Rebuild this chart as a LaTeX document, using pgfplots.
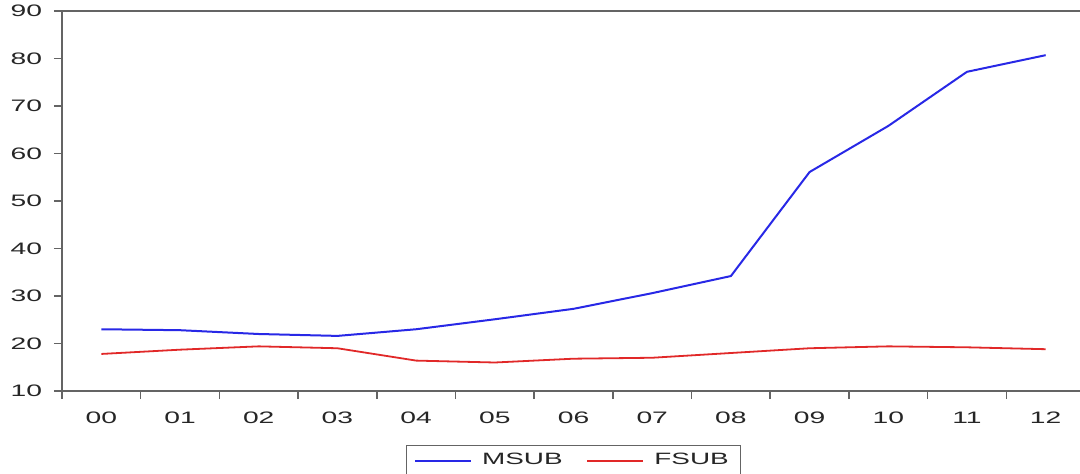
\documentclass[border=0pt]{standalone}
\usepackage{fontspec}
\setmainfont{Liberation Sans}[FakeStretch=1.7]
\usepackage{pgfplots}
\pgfplotsset{compat=1.18}
\definecolor{msub}{RGB}{40,40,230}
\definecolor{fsub}{RGB}{225,40,40}
\definecolor{axgray}{RGB}{100,100,100}
\begin{document}
\begin{tikzpicture}
\begin{axis}[
  at={(0,0)}, anchor=south west,
  scale only axis,
  width=511.5bp, height=190bp,
  xmin=-0.5, xmax=12.5,
  ymin=10, ymax=90,
  ytick={10,20,...,90},
  xtick={-0.5,0.5,...,12.5},
  xticklabels={},
  extra x ticks={0,1,...,12},
  extra x tick labels={00,01,02,03,04,05,06,07,08,09,10,11,12},
  extra x tick style={tick style={draw=none}},
  xtick pos=bottom, ytick pos=left,
  tick align=outside,
  major tick length=4bp,
  axis line style={draw=axgray, line width=0.9bp},
  tick style={draw=axgray, line width=0.8bp},
  font=\fontsize{8.3bp}{10bp}\selectfont,
  /pgf/number format/assume math mode=true,
  ticklabel style={text=black!85},
  xticklabel style={yshift=-3bp},
  yticklabel style={xshift=-2.5bp},
  legend columns=2,
  legend style={at={(0.5,-0.142)}, anchor=north, draw=axgray, line width=0.6bp,
    font=\fontsize{8.2bp}{10bp}\selectfont, text=black!85,
    inner xsep=4bp, inner ysep=2bp,
    /tikz/every odd column/.append style={column sep=3bp},
    /tikz/every even column/.append style={column sep=10bp}},
  legend image code/.code={\draw[#1, line width=0.9bp] (0bp,0bp) -- (28bp,0bp);},
]
\addplot[msub, line width=1bp] coordinates {
(0,23.0) (1,22.8) (2,22.0) (3,21.6) (4,23.0) (5,25.1) (6,27.3) (7,30.6) (8,34.2) (9,56.1) (10,65.8) (11,77.2) (12,80.7)};
\addlegendentry{MSUB}
\addplot[fsub, line width=0.9bp] coordinates {
(0,17.8) (1,18.7) (2,19.4) (3,19.0) (4,16.4) (5,16.0) (6,16.8) (7,17.0) (8,18.0) (9,19.0) (10,19.4) (11,19.2) (12,18.8)};
\addlegendentry{FSUB}
\end{axis}
\pgfresetboundingbox
\path[use as bounding box] (-31bp,-41.5bp) rectangle (509bp,195.5bp);
\end{tikzpicture}
\end{document}
